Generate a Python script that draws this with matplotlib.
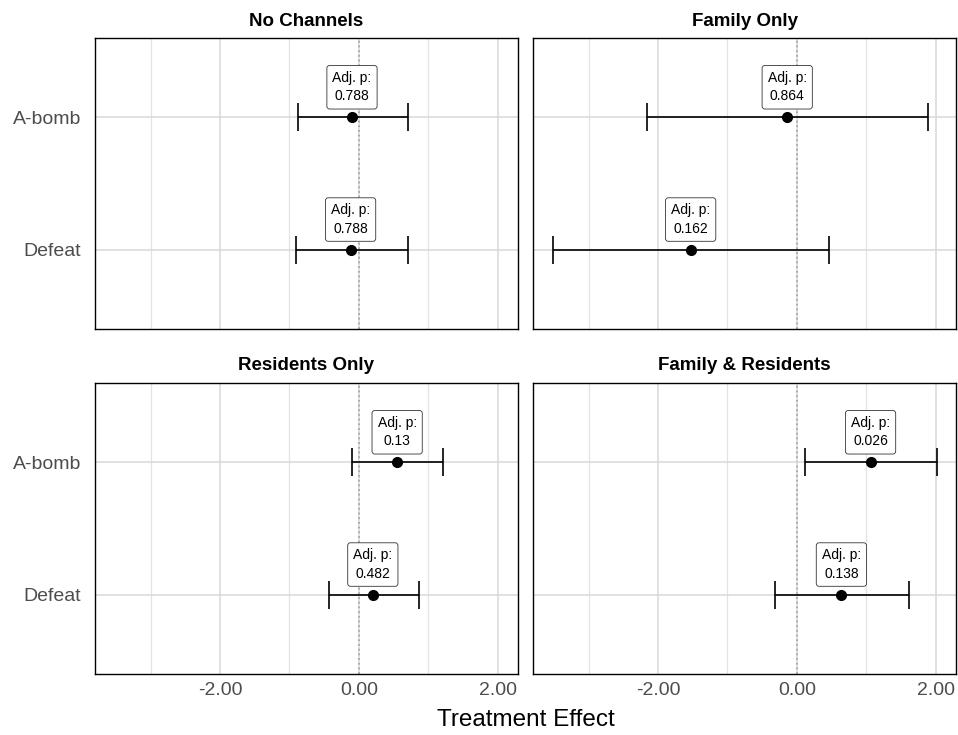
import matplotlib
matplotlib.use("Agg")
import matplotlib.pyplot as plt
from matplotlib.ticker import FixedLocator

plt.rcParams['font.family'] = ['Liberation Sans', 'DejaVu Sans']

panels = ["No Channels", "Family Only", "Residents Only", "Family & Residents"]
outcomes = ["Defeat", "A-bomb"]

# estimate, lower, upper, adjusted p for [Defeat, A-bomb] in each panel
est = [[-0.12, -0.10], [-1.53, -0.14], [0.20, 0.55], [0.64, 1.06]]
lo = [[-0.91, -0.88], [-3.51, -2.16], [-0.43, -0.10], [-0.31, 0.11]]
hi = [[0.70, 0.70], [0.46, 1.89], [0.86, 1.21], [1.61, 2.01]]
padj = [["0.788", "0.788"], ["0.162", "0.864"], ["0.482", "0.13"], ["0.138", "0.026"]]

fig = plt.figure(figsize=(9.58, 7.35), dpi=100)
W, H = 958, 735
boxes = [(95, 38), (533, 38), (95, 383), (533, 383)]
pw, ph = 423, 291

for k, name in enumerate(panels):
    x0, y0 = boxes[k]
    ax = fig.add_axes([x0 / W, 1 - (y0 + ph) / H, pw / W, ph / H])
    ax.set_xlim(-3.80, 2.29)
    ax.set_ylim(0.4, 2.6)
    ax.xaxis.set_major_locator(FixedLocator([-2, 0, 2]))
    ax.xaxis.set_minor_locator(FixedLocator([-3, -1, 1]))
    ax.set_yticks([1, 2])
    ax.grid(which='major', color='#d9d9d9', lw=1.1, zorder=0)
    ax.grid(which='minor', axis='x', color='#e3e3e3', lw=0.9, zorder=0)
    ax.axvline(0, color='black', ls=(0, (1, 1.6)), lw=1.3, zorder=1)
    for i in range(2):
        y = i + 1
        ax.errorbar(est[k][i], y, xerr=[[est[k][i] - lo[k][i]], [hi[k][i] - est[k][i]]],
                    fmt='o', color='black', ms=7, lw=1.2, capsize=10, capthick=1.2, zorder=3)
        ax.annotate("Adj. p:\n" + padj[k][i], (est[k][i], y), xytext=(0, 10),
                    textcoords='offset points', ha='center', va='bottom', fontsize=10,
                    linespacing=1.4, zorder=4,
                    bbox=dict(boxstyle='round,pad=0.4,rounding_size=0.2', fc='white',
                              ec='#333333', lw=0.6))
    ax.set_title(name, fontsize=13.5, fontweight='bold', pad=9)
    for s in ax.spines.values():
        s.set_color('black')
        s.set_linewidth(1.0)
    ax.tick_params(which='both', length=0)
    ax.tick_params(axis='both', labelsize=14, colors='#4d4d4d')
    ax.tick_params(axis='y', pad=10)
    ax.tick_params(axis='x', pad=6)
    if k in (0, 2):
        ax.set_yticklabels(outcomes)
    else:
        ax.set_yticklabels([])
    if k in (2, 3):
        ax.set_xticklabels(["-2.00", "0.00", "2.00"])
    else:
        ax.set_xticklabels([])

fig.text((95 + 956) / 2 / W, 1 - 720 / H, "Treatment Effect", ha='center', va='center', fontsize=17.5)
fig.savefig("out.png", dpi=100)
